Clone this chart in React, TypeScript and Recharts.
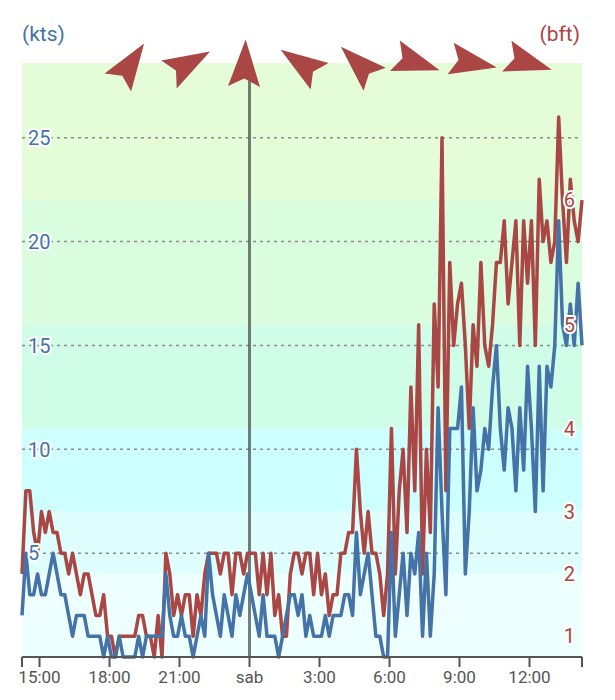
import React from "react";
import {
  ComposedChart,
  Line,
  Scatter,
  XAxis,
  YAxis,
  CartesianGrid,
  ReferenceArea,
  ReferenceLine,
} from "recharts";

// samples every 10 minutes, starting friday 14:15
const START_HOUR = 14.25;
const END_HOUR = 38.25;
const STEP_MINUTES = 10;

const WIND_KTS = [
  2, 5, 3, 3, 4, 3, 3, 4, 5, 4, 3, 3, 2, 1, 2, 2, 2, 1, 1, 1, 1, 0, 1, 0, 0, 1, 0, 0, 0, 0, 1, 0, 1, 1, 1, 1, 1, 4, 2, 1,
  1, 2, 1, 1, 0, 1, 2, 1, 5, 3, 2, 1, 3, 2, 1, 3, 2, 3, 4, 3, 2, 1, 3, 1, 1, 1, 0, 1, 2, 3, 3, 2, 3, 1, 2, 1, 1, 1, 2, 1,
  2, 2, 2, 3, 3, 2, 6, 3, 4, 5, 3, 1, 1, 0, 0, 6, 1, 3, 5, 2, 5, 4, 6, 1, 5, 1, 4, 12, 7, 3, 11, 11, 11, 13, 4, 7, 12, 8,
  9, 11, 10, 13, 15, 11, 9, 12, 11, 8, 12, 9, 14, 11, 7, 14, 8, 14, 13, 15, 21, 16, 15, 17, 15, 18, 15,
];

const GUST_KTS = [
  4, 8, 8, 6, 5, 7, 6, 7, 6, 6, 5, 5, 4, 5, 4, 3, 4, 4, 3, 2, 2, 3, 1, 1, 0, 1, 1, 1, 1, 1, 2, 2, 1, 1, 0, 2, 0, 5, 4, 2,
  3, 2, 3, 3, 1, 3, 2, 4, 5, 5, 5, 4, 5, 5, 3, 5, 5, 4, 5, 5, 5, 3, 5, 3, 5, 2, 3, 1, 1, 4, 5, 5, 4, 5, 5, 3, 5, 3, 4, 2,
  3, 3, 5, 5, 6, 6, 10, 7, 5, 7, 5, 5, 4, 2, 4, 11, 4, 8, 10, 6, 13, 8, 16, 4, 10, 6, 17, 13, 25, 8, 19, 15, 17, 18, 15, 11,
  16, 14, 19, 15, 14, 16, 19, 19, 21, 17, 19, 21, 15, 21, 18, 21, 15, 23, 20, 21, 19, 20, 26, 22, 19, 23, 21, 20, 22,
];

const HOUR_TICKS = [15, 18, 21, 24, 27, 30, 33, 36];
const HOUR_LABELS = ["15:00", "18:00", "21:00", "sab", "3:00", "6:00", "9:00", "12:00"];
const MIDNIGHT = 24;

const KTS_MAX = 28.6;
const KTS_TICKS = [5, 10, 15, 20, 25];
const BFT_START_KTS = [1, 4, 7, 11, 16, 22];
const BFT_LABELS = ["1", "2", "3", "4", "5", "6"];

const BAND_EDGES = [0, 4, 7, 11, 16, 22, KTS_MAX];
const BAND_COLORS = ["#edfffe", "#dffffe", "#ccfffe", "#d0fde8", "#dafde0", "#e5fcd8"];

// wind direction arrows (direction they point to, degrees from north)
const ARROW_HOURS = [18.92, 21.43, 23.8, 26.17, 28.64, 31.19, 33.61, 35.99];
const ARROW_DIRS = [34, 61, 2, 304, 314, 108, 101, 107];
const ARROW_KTS = 28.6;

const BLUE = "#4572A7";
const RED = "#AA4643";
const AXIS_GREY = "#555";

const rows = WIND_KTS.map((w, i) => ({
  t: START_HOUR + (i * STEP_MINUTES) / 60,
  wind: w,
  gust: GUST_KTS[i],
}));

const arrows = ARROW_HOURS.map((t, i) => ({ t, y: ARROW_KTS, dir: ARROW_DIRS[i] }));

function hourLabel(v: number) {
  const i = HOUR_TICKS.indexOf(v);
  return i >= 0 ? HOUR_LABELS[i] : "";
}

function KtsTick(props: any) {
  const { x, y, payload } = props;
  return (
    <text
      x={x}
      y={y}
      dy="0.36em"
      textAnchor="start"
      fill={BLUE}
      fontSize={20}
      stroke="#fff"
      strokeWidth={4}
      strokeLinejoin="round"
      paintOrder="stroke"
    >
      {payload.value}
    </text>
  );
}

function BftTick(props: any) {
  const { x, y, payload } = props;
  return (
    <text
      x={x}
      y={y}
      dy="0.36em"
      textAnchor="end"
      fill={RED}
      fontSize={20}
      stroke="#fff"
      strokeWidth={4}
      strokeLinejoin="round"
      paintOrder="stroke"
    >
      {BFT_LABELS[BFT_START_KTS.indexOf(payload.value)]}
    </text>
  );
}

function Arrow(props: any) {
  const { cx, cy, payload } = props;
  if (cx == null || cy == null) return null;
  return (
    <polygon
      points="0,-23.5 16,23.5 0,15.5 -16,23.5"
      fill={RED}
      transform={`translate(${cx},${cy}) rotate(${payload.dir})`}
    />
  );
}

export default function App() {
  return (
    <div style={{ position: "relative", width: 599, height: 685, fontFamily: "Roboto, sans-serif" }}>
      <div style={{ position: "absolute", left: 14, top: 12, color: BLUE, fontSize: 21, lineHeight: "28px" }}>
        (kts)
      </div>
      <div style={{ position: "absolute", right: 27, top: 12, color: RED, fontSize: 21, lineHeight: "28px" }}>
        (bft)
      </div>
      <ComposedChart width={599} height={685} data={rows} margin={{ top: 55, right: 25, bottom: 6, left: 14 }}>
        {BAND_COLORS.map((c, i) => (
          <ReferenceArea
            key={c}
            xAxisId="t"
            yAxisId="kts"
            y1={BAND_EDGES[i]}
            y2={BAND_EDGES[i + 1]}
            fill={c}
            fillOpacity={1}
            stroke="none"
            zIndex={-200}
          />
        ))}
        <CartesianGrid
          xAxisId="t"
          yAxisId="kts"
          vertical={false}
          horizontalValues={KTS_TICKS}
          stroke="#8c8c8c"
          strokeWidth={1.5}
          strokeDasharray="3 4"
        />
        <XAxis
          xAxisId="t"
          dataKey="t"
          type="number"
          domain={[START_HOUR, END_HOUR]}
          ticks={[START_HOUR, ...HOUR_TICKS, END_HOUR]}
          interval={0}
          tickFormatter={hourLabel}
          height={30}
          tickSize={10}
          tickMargin={4}
          stroke={AXIS_GREY}
          strokeWidth={2}
          tick={{ fill: AXIS_GREY, fontSize: 17 }}
        />
        <YAxis
          yAxisId="kts"
          domain={[0, KTS_MAX]}
          ticks={KTS_TICKS}
          mirror
          axisLine={false}
          tickLine={false}
          tickSize={0}
          tickMargin={6}
          tick={<KtsTick />}
        />
        <YAxis
          yAxisId="bft"
          orientation="right"
          domain={[0, KTS_MAX]}
          ticks={BFT_START_KTS}
          interval={0}
          mirror
          axisLine={false}
          tickLine={false}
          tickSize={0}
          tickMargin={7}
          tick={<BftTick />}
        />
        <ReferenceLine xAxisId="t" yAxisId="kts" x={MIDNIGHT} stroke="#444" strokeOpacity={0.7} strokeWidth={3} />
        <Line
          xAxisId="t"
          yAxisId="bft"
          dataKey="gust"
          stroke={RED}
          strokeWidth={3.5}
          strokeLinejoin="round"
          dot={false}
          isAnimationActive={false}
        />
        <Line
          xAxisId="t"
          yAxisId="kts"
          dataKey="wind"
          stroke={BLUE}
          strokeWidth={3.5}
          strokeLinejoin="round"
          dot={false}
          isAnimationActive={false}
        />
        <Scatter xAxisId="t" yAxisId="kts" data={arrows} dataKey="y" shape={Arrow} isAnimationActive={false} />
      </ComposedChart>
    </div>
  );
}
